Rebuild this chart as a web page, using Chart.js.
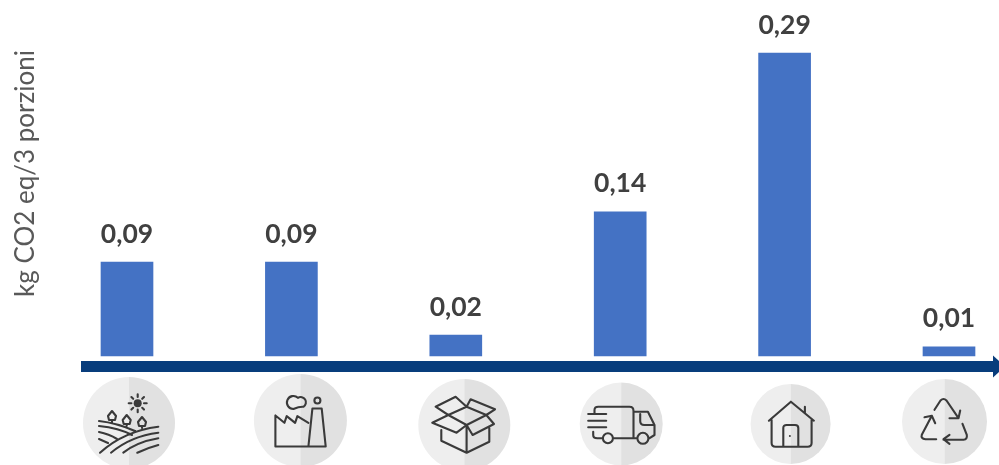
<!DOCTYPE html>
<html>
<head>
<meta charset="utf-8">
<title>kg CO2 eq/3 porzioni</title>
<script src="https://cdn.jsdelivr.net/npm/chart.js@4"></script>
<style>
    html, body { margin: 0; padding: 0; background: #fff; overflow: hidden; }
    canvas { display: block; }
</style>
</head>
<body>
<canvas id="co2Chart" width="999" height="465"></canvas>
<script>
// Chart data
const stages = ['Campo', 'Fabbrica', 'Imballaggio', 'Trasporto', 'Casa', 'Riciclo'];
const co2Values = [0.09, 0.09, 0.02, 0.138, 0.29, 0.0088];
const yTitle = 'kg CO2 eq/3 porzioni';

// Icon layout, relative to each bar
const iconDx = [2, 9, 8.5, 1, 6, -4.5];
const iconY = [423, 420.5, 425, 424, 424, 421.5];
const iconR = [46, 46.5, 46, 41.5, 40, 42.5];

// Icons as svg paths around the middle of the circle
const iconPaths = [
    // field
    `M-30 -2Q-12 0 6 8 M-30 3Q-10 5 3 12 M-30 9Q-20 11 -12 16 M-30 16L-21 20
     M-29 29.7Q-5 8 29.3 3.7 M-18 29.7Q2 13 29.3 9.7 M-5.7 29.7Q8 19 29.3 15.3 M8.3 29.7Q18 25 29.3 22
     M-17 -12L-13 -7L-14 -3L-20 -3L-21 -7Z M-17 -3V0
     M-2.3 -8L1.7 -3L0.7 1L-5.3 1L-6.3 -3Z M-2.3 1V3
     M13 -6L17 -1L16 3L10 3L9 -1Z M13 3V5
     M8.7 -28.7V-26 M8.7 -13.4V-10.7 M-0.3 -19.7H2.4 M15 -19.7H17.7
     M2.4 -26L4.2 -24.2 M13.2 -15.2L15 -13.4 M2.4 -13.4L4.2 -15.2 M13.2 -24.2L15 -26`,
    // factory
    `M-25 -5L-16 2.3L-13.7 -4.3L-5.3 2.3L-3 -4.3L8 2.3 M-25 -5V26H25.3L21.3 -12H12L8 26
     M-7 -11.5A6.5 6.5 0 1 1 -2.5 -22.7A5 5 0 1 1 3 -13.7Q-1 -14 -7 -11.5
     M20 -20A3 3 0 1 1 14 -20A3 3 0 1 1 20 -20`,
    // box
    `M-16 -10L2.3 -18.3L22 -10L2.3 0Z M-16 -10L-28.7 -18.3L-8.7 -28.3L2.3 -18.3
     M2.3 -18.3L6.3 -25.7L30.7 -15.7L22 -10 M-16 -10L-32 -2.3L-7.7 7.7L2.3 0
     M22 -10L29.7 -1L8.3 10L2.3 0 M-23 5V15.7L2.3 27.7L25 16.7V3 M2.3 0V27.7`,
    // truck
    `M-26.7 -10V-14Q-26.7 -17.3 -23 -17.3H8.3Q12.3 -17.3 12.3 -13V14.3 M-28 7.7V11Q-28 14.3 -24 14.3H-18.5
     M-8 14.3H16 M-33 -10H-15 M-33 -3.3H-15 M-33 3.3H-15
     M12.3 -12.3H26.7L33.3 1V11L28 14.3 M19 -10V-3Q19 1 23 1H33
     M-8.3 14.3A5 5 0 1 1 -18.3 14.3A5 5 0 1 1 -8.3 14.3 M27.2 14.3A5.5 5.5 0 1 1 16.2 14.3A5.5 5.5 0 1 1 27.2 14.3`,
    // house
    `M-21.7 -3.3L0.3 -22.3L23.3 -3.3 M14.3 -17.3V-11 M-19 -4V19Q-19 22.7 -15 22.7H17Q21 22.7 21 19V-4
     M-7.3 22.7V4Q-7.3 1 -4 1H4.5Q7.7 1 7.7 4V22.7`,
    // recycle
    `M-10 -11.7L-4 -21Q-1 -24 2 -21L14 -3.3 M5 -3.3L14 -3.3L15.7 -11
     M18 2.3L22.3 13.3Q23 18 19 18.3H-1 M5 13.3L-1 17.7L5 22.3
     M-8.3 17.7H-19Q-24 17 -22.7 13.3L-12.7 -5.7 M-20 -4.3L-12.7 -5.7L-9.3 1.7`,
];

function euroNumber(v) {
    return v.toFixed(2).replace('.', ',');
}

// Arrow, value labels and icons are not part of Chart.js
const extrasPlugin = {
    id: 'extras',
    afterDatasetsDraw(chart) {
        const { ctx, scales } = chart;
        const bars = chart.getDatasetMeta(0).data;
        const axisY = scales.y.getPixelForValue(0) + 10.5;

        ctx.save();

        // axis arrow
        ctx.fillStyle = '#083d7c';
        ctx.fillRect(81, axisY - 5.5, 914, 11);
        ctx.beginPath();
        ctx.moveTo(993, axisY - 11);
        ctx.lineTo(1005, axisY);
        ctx.lineTo(993, axisY + 11);
        ctx.closePath();
        ctx.fill();

        // value labels
        ctx.fillStyle = '#404040';
        ctx.font = 'bold 26.5px Lato';
        ctx.textAlign = 'center';
        ctx.textBaseline = 'middle';
        bars.forEach((bar, i) => {
            ctx.fillText(euroNumber(co2Values[i]), bar.x, bar.y - 28);
        });

        // icons under the axis
        bars.forEach((bar, i) => {
            const x = bar.x + iconDx[i];
            const y = iconY[i];
            const r = iconR[i];

            ctx.fillStyle = '#eeeeee';
            ctx.beginPath();
            ctx.arc(x, y, r, Math.PI / 2, Math.PI * 1.5);
            ctx.fill();
            ctx.fillStyle = '#e1e1e1';
            ctx.beginPath();
            ctx.arc(x, y, r, -Math.PI / 2, Math.PI / 2);
            ctx.fill();

            ctx.save();
            ctx.translate(x, y);
            ctx.strokeStyle = '#3a3a3a';
            ctx.fillStyle = '#3a3a3a';
            ctx.lineWidth = 2.1;
            ctx.lineCap = 'round';
            ctx.lineJoin = 'round';
            ctx.stroke(new Path2D(iconPaths[i]));
            if (i === 0) {
                ctx.beginPath();
                ctx.arc(8.7, -19.7, 4, 0, Math.PI * 2);
                ctx.fill();
            }
            if (i === 4) {
                ctx.beginPath();
                ctx.arc(-0.7, 12, 1, 0, Math.PI * 2);
                ctx.fill();
            }
            ctx.restore();
        });

        ctx.restore();
    }
};

const co2Chart = new Chart(document.getElementById('co2Chart').getContext('2d'), {
    type: 'bar',
    data: {
        labels: stages,
        datasets: [{
            data: co2Values,
            backgroundColor: '#4472c4',
            barThickness: 52,
            clip: false
        }]
    },
    options: {
        responsive: false,
        animation: false,
        layout: {
            padding: { left: 10, right: 50, top: 50, bottom: 109 }
        },
        plugins: {
            legend: { display: false },
            tooltip: { enabled: false }
        },
        scales: {
            x: {
                offset: false,
                display: false,
                grid: { display: false }
            },
            y: {
                min: 0,
                max: 0.293,
                grid: { display: false },
                border: { display: false },
                ticks: { display: false },
                title: {
                    display: true,
                    text: yTitle,
                    align: 'end',
                    color: '#595959',
                    font: { family: 'Lato', size: 26 },
                    padding: 0
                },
                afterFit(scale) {
                    scale.width = 117;
                }
            }
        }
    },
    plugins: [extrasPlugin]
});
</script>
</body>
</html>
